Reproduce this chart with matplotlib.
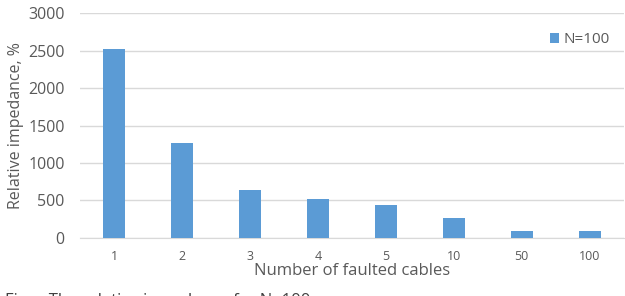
import matplotlib.pyplot as plt
import numpy as np

categories = ['1', '2', '3', '4', '5', '10', '50', '100']
impedance = [2520, 1270, 642, 520, 445, 268, 88, 88]
series_name = 'N=100'

plt.rcParams['font.family'] = ['Open Sans', 'DejaVu Sans']
text_col = '#595959'
grid_col = '#d9d9d9'

fig = plt.figure(figsize=(6.25, 2.96), dpi=100)
ax = fig.add_axes([0.128, 0.196, 0.87, 0.76])

x = np.arange(len(categories))
ax.bar(x, impedance, width=0.32, color='#5b9bd5', label=series_name, zorder=3)

ax.set_xlim(-0.5, len(categories) - 0.5)
ax.set_ylim(0, 3000)
ax.set_yticks(np.arange(0, 3001, 500))
ax.set_xticks(x)
ax.set_xticklabels(categories)
ax.grid(axis='y', color=grid_col, linewidth=1, zorder=0)
for s in ['top', 'right', 'left']:
    ax.spines[s].set_visible(False)
ax.spines['bottom'].set_color(grid_col)
ax.tick_params(axis='both', length=0, colors=text_col)
ax.tick_params(axis='y', labelsize=11.5, pad=11)
ax.tick_params(axis='x', labelsize=9, pad=9)

ax.set_xlabel('Number of faulted cables', fontsize=12, color=text_col, labelpad=0)
ax.set_ylabel('Relative impedance, %', fontsize=11.5, color=text_col, labelpad=3)

leg = ax.legend(loc='upper right', frameon=False, fontsize=11, handlelength=0.6,
                handleheight=0.6, handletextpad=0.3, bbox_to_anchor=(1.0, 0.975))
for t in leg.get_texts():
    t.set_color(text_col)

fig.text(0.008, -0.045, 'Fig.    The relative impedance for N=100', fontsize=12,
         color='#404040', ha='left', va='bottom')

fig.savefig('out.png', dpi=100)
